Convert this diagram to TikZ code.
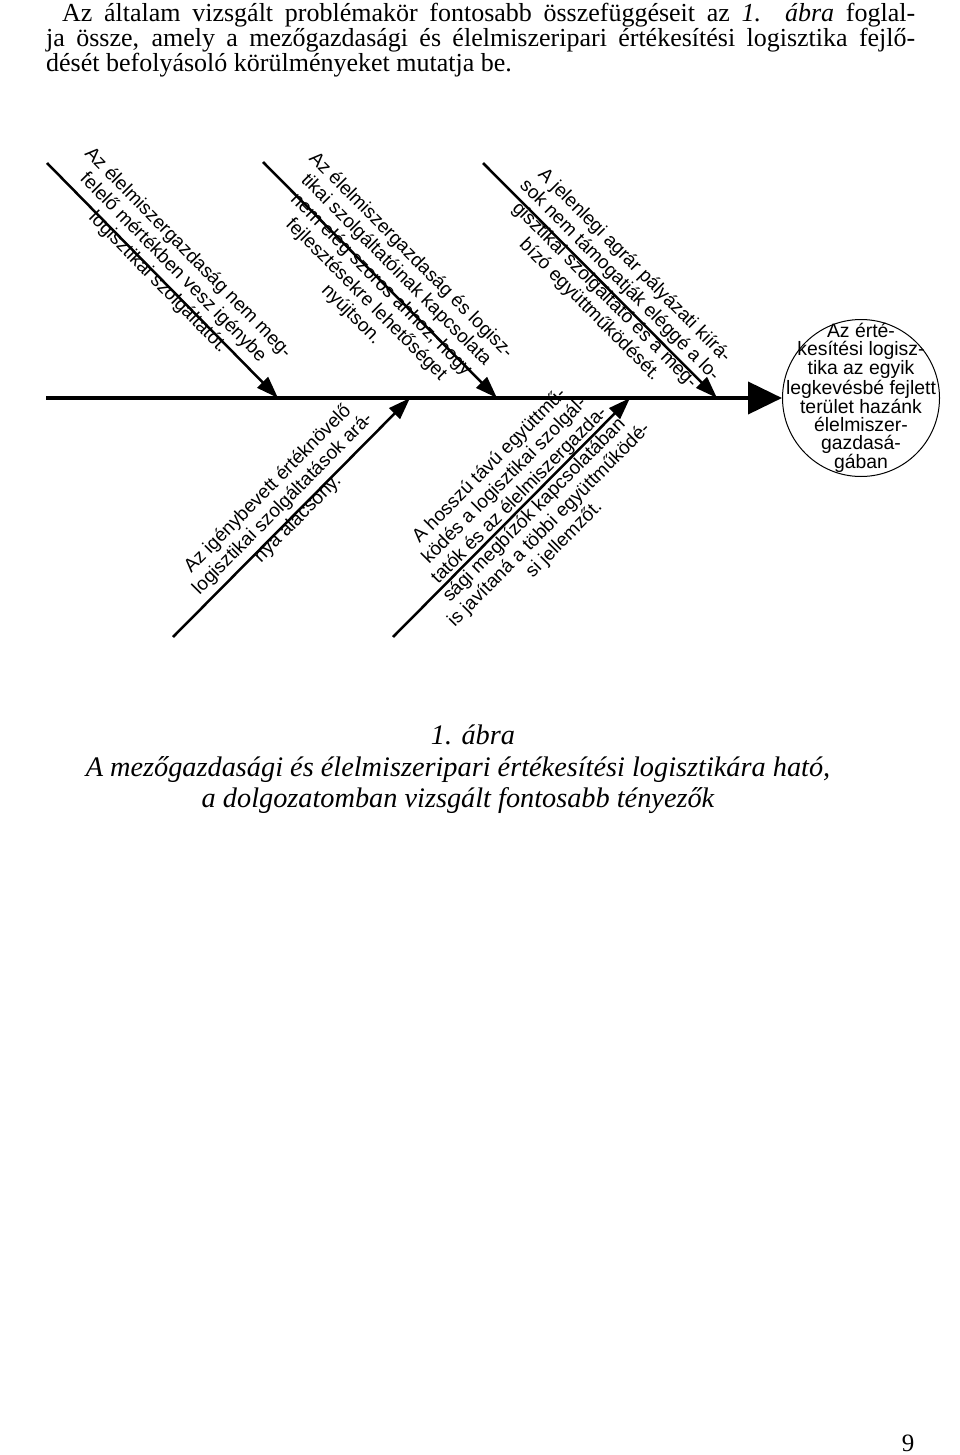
\documentclass[tikz,border=0pt]{standalone}
\usepackage{fontspec}
\setmainfont{Liberation Serif}
\setsansfont{Liberation Sans}
\usetikzlibrary{arrows.meta}
\begin{document}
\begin{tikzpicture}[x=1pt,y=-1pt,
  bone/.style={line width=2.5pt,-{Triangle[length=22pt,width=15pt]}},
  spine/.style={line width=4pt,-{Triangle[length=34pt,width=32pt]}},
  btxt/.style={font=\sffamily\fontsize{19}{21}\selectfont,align=center,inner sep=0pt},
  ptxt/.style={font=\fontsize{26}{30}\selectfont,anchor=base west,inner sep=0pt},
  ctxt/.style={font=\itshape\fontsize{28.3}{32}\selectfont,anchor=base,inner sep=0pt}]
\useasboundingbox[fill=white] (0,0) rectangle (960,1455);
% paragraph
\node[ptxt] (p1) at (62,22) {\hbox to 853pt{Az általam vizsgált problémakör fontosabb összefüggéseit az \textit{1. ábra} foglal-}};
\node[ptxt] (p2) at (46,47) {\hbox to 869pt{ja össze, amely a mezőgazdasági és élelmiszeripari értékesítési logisztika fejlő-}};
\node[ptxt] (p3) at (46,72) {dését befolyásoló körülményeket mutatja be.};
% spine and circle
\coordinate (sp0) at (46,398);
\node[circle,draw,line width=1pt,minimum size=157pt,inner sep=0pt] (eff) at (861,398) {};
\node[align=center,inner sep=0pt,font=\sffamily\fontsize{19.4}{18}\selectfont] (efft) at (eff.center) {Az érté-\\kesítési logisz-\\tika az egyik\\legkevésbé fejlett\\terület hazánk\\élelmiszer-\\gazdasá-\\gában};
\draw[spine] (sp0) -- (eff.west);
% bone coordinates
\coordinate (b1s) at (47,163);  \coordinate (b1e) at (278,398);
\coordinate (b2s) at (263,162); \coordinate (b2e) at (497,398);
\coordinate (b3s) at (483,163); \coordinate (b3e) at (717,398);
\coordinate (b4s) at (173,637); \coordinate (b4e) at (410,398);
\coordinate (b5s) at (393,637); \coordinate (b5e) at (630,398);
\foreach \i in {1,...,5}{\draw[bone] (b\i s) -- (b\i e);}
% bone texts
\node[btxt,rotate=-45.5] (t1) at (173,268) {Az élelmiszergazdaság nem meg-\\felelő mértékben vesz igénybe\\logisztikai szolgáltatót.};
\node[btxt,rotate=-45.2] (t2) at (381,285) {Az élelmiszergazdaság és logisz-\\tikai szolgáltatóinak kapcsolata\\nem elég szoros ahhoz, hogy\\fejlesztésekre lehetőséget\\nyújtson.};
\node[btxt,rotate=-45.2] (t3) at (612,288) {A jelenlegi agrár pályázati kiírá-\\sok nem támogatják eléggé a lo-\\gisztikai szolgáltató és a meg-\\bízó együttműködését.};
\node[btxt,rotate=45.3] (t4) at (283,504) {Az igénybevett értéknövelő\\logisztikai szolgáltatások ará-\\nya alacsony.};
\node[btxt,rotate=45.3] (t5) at (527,503) {A hosszú távú együttmű-\\ködés a logisztikai szolgál-\\tatók és az élelmiszergazda-\\sági megbízók kapcsolatában\\is javítaná a többi együttműködé-\\si jellemzőt.};
% caption
\node[ctxt] (c1) at (473,744) {1. ábra};
\node[ctxt] (c2) at (458,776) {A mezőgazdasági és élelmiszeripari értékesítési logisztikára ható,};
\node[ctxt] (c3) at (458,807) {a dolgozatomban vizsgált fontosabb tényezők};
\node[font=\fontsize{25}{28}\selectfont,anchor=base,inner sep=0pt] (pg) at (908,1451) {9};
\end{tikzpicture}
\end{document}
